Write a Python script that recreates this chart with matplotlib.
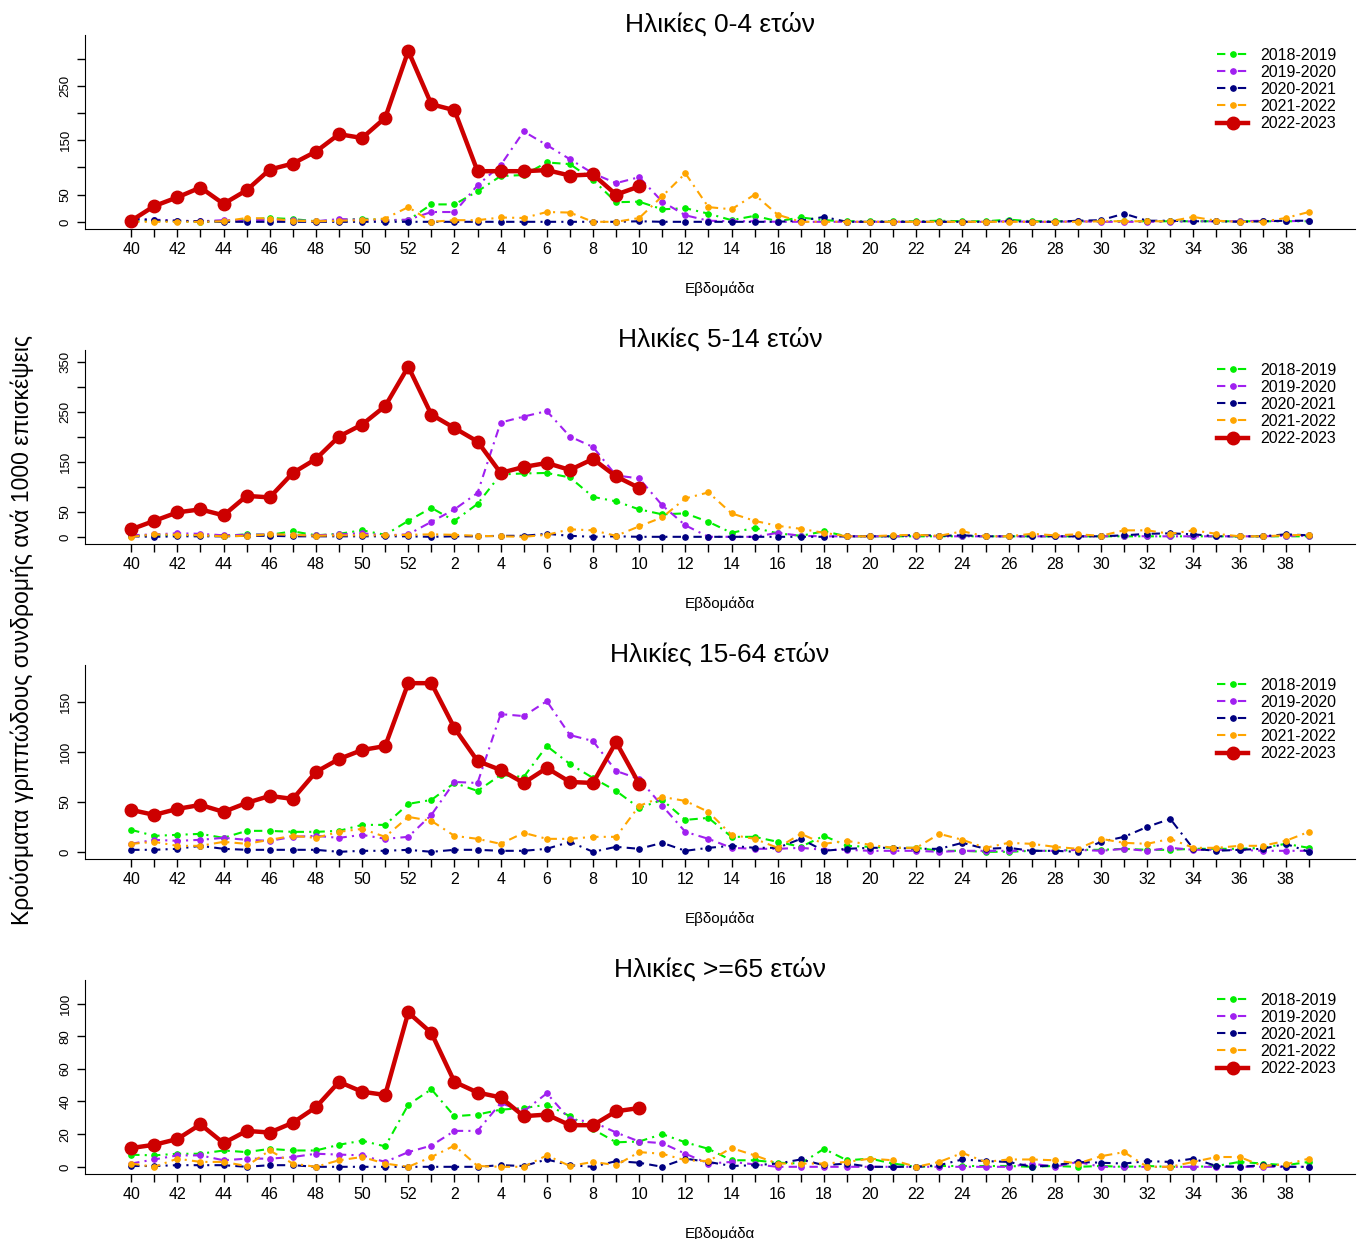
import matplotlib
matplotlib.use('Agg')
import matplotlib.pyplot as plt
import numpy as np

plt.rcParams['font.family'] = ['Liberation Sans', 'DejaVu Sans']

# Εβδομάδες της περιόδου (40..52, 1..39)
weeks = list(range(40, 53)) + list(range(1, 40))

seasons = ['2018-2019', '2019-2020', '2020-2021', '2021-2022', '2022-2023']
colors = ['#00ee00', '#a020f0', '#000080', '#ffa500', '#cd0000']

titles = ['Ηλικίες 0-4 ετών', 'Ηλικίες 5-14 ετών', 'Ηλικίες 15-64 ετών', 'Ηλικίες >=65 ετών']

# Ηλικίες 0-4  (γραμμές: εβδ. 40-52 | 1-13 | 14-26 | 27-39)
a04_1819 = [2, 2, 1, 0, 1, 4, 7, 5, 1, 3, 6, 3, 3,
            32, 32, 56, 84, 86, 109, 106, 77, 36, 37, 23, 25, 15,
            3, 11, 1, 8, 3, 1, 1, 1, 1, 2, 1, 1, 4,
            1, 1, 1, 1, 1, 1, 1, 1, 1, 1, 1, 1, 1]
a04_1920 = [5, 4, 2, 1, 3, 2, 4, 3, 1, 5, 4, 3, 4,
            18, 18, 67, 104, 166, 141, 115, 89, 71, 82, 37, 12, 2,
            1, 1, 0, 0, 0, 0, 0, 0, 0, 0, 0, 0, 1,
            0, 0, 1, 0, 0, 0, 0, 1, 1, 1, 2, 1, 2]
a04_2021 = [6, 3, 2, 1, 0, 0, 0, 0, 0, 0, 0, 0, 0,
            0, 0, 0, 0, 0, 0, 0, 0, 0, 1, 0, 0, 0,
            0, 0, 0, 2, 9, 0, 0, 0, 0, 0, 0, 0, 1,
            0, 0, 2, 3, 15, 2, 2, 1, 1, 0, 1, 2, 2]
a04_2122 = [0, 0, 0, 0, 1, 7, 6, 2, 1, 2, 3, 6, 27,
            0, 3, 3, 8, 7, 18, 17, 0, 0, 7, 47, 89, 27,
            23, 50, 13, 0, 0, 0, 0, 0, 0, 0, 0, 0, 0,
            0, 0, 0, 1, 1, 1, 1, 9, 2, 0, 0, 7, 18]
a04_2223 = [2, 29, 45, 63, 33, 58, 96, 107, 129, 161, 154, 191, 314,
            216, 205, 93, 93, 93, 95, 85, 87, 50, 65]

# Ηλικίες 5-14
a514_1819 = [2, 3, 3, 3, 2, 5, 4, 11, 3, 6, 13, 4, 32,
             58, 32, 66, 125, 127, 128, 119, 80, 71, 55, 45, 47, 30,
             8, 18, 7, 2, 11, 1, 1, 1, 1, 1, 1, 1, 1,
             1, 1, 1, 1, 1, 1, 1, 1, 1, 1, 1, 1, 1]
a514_1920 = [3, 5, 7, 6, 3, 4, 5, 3, 3, 5, 7, 3, 5,
             30, 55, 88, 229, 241, 252, 201, 180, 123, 117, 63, 23, 0,
             0, 0, 8, 2, 1, 1, 1, 1, 1, 1, 1, 1, 1,
             1, 1, 1, 1, 2, 1, 1, 1, 1, 1, 1, 2, 2]
a514_2021 = [1, 0, 1, 1, 1, 2, 2, 1, 1, 1, 1, 1, 1,
             0, 1, 1, 2, 2, 6, 2, 0, 1, 0, 0, 0, 0,
             0, 0, 0, 0, 0, 1, 1, 1, 4, 2, 3, 1, 1,
             1, 1, 1, 1, 3, 6, 7, 5, 1, 1, 1, 5, 3]
a514_2122 = [0, 5, 4, 3, 1, 2, 5, 4, 2, 3, 3, 3, 4,
             5, 4, 2, 1, 0, 4, 15, 13, 2, 21, 39, 77, 89,
             47, 32, 22, 16, 8, 1, 1, 3, 4, 2, 11, 1, 1,
             6, 3, 5, 2, 13, 13, 6, 13, 6, 1, 1, 3, 4]
a514_2223 = [15, 32, 49, 55, 43, 82, 79, 128, 156, 201, 225, 262, 341,
             245, 218, 191, 128, 140, 148, 134, 156, 121, 98]

# Ηλικίες 15-64
a1564_1819 = [22, 16, 17, 18, 14, 21, 21, 20, 20, 21, 27, 27, 48,
              52, 69, 61, 77, 75, 106, 88, 74, 61, 44, 52, 32, 34,
              15, 15, 10, 5, 16, 6, 5, 4, 4, 1, 1, 0, 0,
              1, 1, 2, 2, 3, 2, 2, 3, 3, 3, 4, 8, 4]
a1564_1920 = [8, 12, 11, 12, 14, 12, 11, 15, 16, 14, 17, 13, 15,
              37, 70, 69, 138, 136, 151, 117, 111, 81, 73, 46, 20, 13,
              4, 3, 3, 4, 2, 2, 1, 1, 1, 0, 1, 1, 1,
              1, 1, 2, 1, 3, 1, 4, 2, 2, 2, 1, 1, 1]
a1564_2021 = [2, 2, 3, 6, 3, 2, 2, 2, 2, 0, 1, 1, 2,
              0, 2, 2, 1, 1, 3, 10, 0, 5, 3, 9, 1, 4,
              6, 4, 4, 13, 1, 3, 4, 4, 3, 3, 9, 3, 4,
              1, 1, 0, 10, 15, 25, 33, 3, 1, 2, 3, 8, 0]
a1564_2122 = [8, 10, 6, 6, 10, 8, 12, 16, 14, 20, 23, 15, 35,
              31, 16, 13, 8, 19, 13, 13, 15, 15, 46, 55, 51, 40,
              17, 13, 4, 18, 8, 11, 7, 4, 4, 18, 12, 4, 9,
              8, 5, 3, 13, 9, 8, 13, 4, 4, 6, 6, 11, 20]
a1564_2223 = [42, 37, 43, 47, 40, 49, 56, 53, 80, 93, 102, 106, 169,
              169, 124, 91, 82, 69, 84, 70, 69, 110, 68]

# Ηλικίες >=65
a65_1819 = [7.4, 7, 8, 8, 10, 9, 11, 10, 10, 13.5, 16, 12.5, 38,
            47.5, 31, 32, 35, 36, 38, 31, 23, 15, 15.5, 20, 15, 11,
            4, 4, 2.5, 2, 11, 4, 5, 2, 0, 0.5, 0.5, 0.5, 0.5,
            0, 0.5, 0, 0.5, 0, 0.5, 0, 0, 0.5, 3, 2, 1, 3]
a65_1920 = [2, 4.5, 7, 7, 4, 5, 5, 6, 8, 7.5, 7, 3, 9,
            13, 22, 22, 39, 34, 45, 29, 27.5, 21, 15.5, 14.5, 8, 2,
            3, 1.5, 0, 0, 0, 0, 0, 0, 0, 0, 0, 0, 0,
            2, 0, 3, 0, 0, 0, 0, 0, 0, 0, 0, 0, 0]
a65_2021 = [0.5, 0.5, 1, 1, 1, 0, 1, 1, 0, 0, 0, 0, 0,
            0, 0, 0, 1, 0.5, 4.5, 1, 0, 3.5, 2.5, 0, 5, 3,
            0.5, 1, 2, 4.5, 1, 2, 0, 0, 0, 1, 4.5, 3.5, 3,
            0, 1, 3, 2.5, 2, 3.5, 3, 5, 0.5, 0, 1, 0, 0]
a65_2122 = [2, 0, 5, 3, 3, 0.5, 10, 2, 0, 4, 6, 2, 0,
            6, 13, 0.5, 0, 0, 7, 0.5, 3, 1, 9, 8, 4, 3.5,
            11.5, 7, 2, 2, 2, 3, 5, 4, 0, 3, 8.5, 3, 4.5,
            4.5, 4, 2, 6.5, 9, 0, 0, 3, 6, 6, 0.5, 1.5, 5]
a65_2223 = [11.5, 13.5, 17, 26, 14.5, 22, 21, 27, 36.5, 52, 46, 44, 94.5,
            82, 52, 45.5, 42.5, 31, 32, 25.5, 25.5, 34, 36]

panels = [
    [a04_1819, a04_1920, a04_2021, a04_2122, a04_2223],
    [a514_1819, a514_1920, a514_2021, a514_2122, a514_2223],
    [a1564_1819, a1564_1920, a1564_2021, a1564_2122, a1564_2223],
    [a65_1819, a65_1920, a65_2021, a65_2122, a65_2223],
]

# y-άξονες: όρια, ticks, ποια ticks έχουν ετικέτα
ylims = [(-13.2, 343.2), (-14.4, 374.4), (-7.2, 187.2), (-4.4, 114.4)]
yticks = [np.arange(0, 301, 50), np.arange(0, 351, 50), np.arange(0, 151, 50), np.arange(0, 101, 20)]
yshown = [[0, 50, 150, 250], [0, 50, 150, 250, 350], [0, 50, 100, 150], [0, 20, 40, 60, 80, 100]]

W, H = 1360, 1239
fig = plt.figure(figsize=(W / 100, H / 100), dpi=100)

x = np.arange(len(weeks))
xlabels = [str(w) if i % 2 == 0 else '' for i, w in enumerate(weeks)]

for p in range(4):
    top = 35 + 315 * p
    ax_h = 194
    ax = fig.add_axes([85 / W, 1 - (top + ax_h) / H, 1270 / W, ax_h / H])

    for s in range(5):
        vals = panels[p][s]
        xs = x[:len(vals)]
        if s == 4:
            ax.plot(xs, vals, color=colors[s], lw=3.2, marker='o', ms=9,
                    label=seasons[s], zorder=5)
        else:
            ax.plot(xs, vals, color=colors[s], lw=1.5, ls=(0, (4, 2.5, 1, 2.5)),
                    marker='o', ms=3.8, label=seasons[s], zorder=2 + s * 0.1)

    ax.set_xlim(-2, 53)
    ax.set_ylim(*ylims[p])
    ax.spines['top'].set_visible(False)
    ax.spines['right'].set_visible(False)

    ax.set_xticks(x)
    ax.set_xticklabels(xlabels, fontsize=11.5)
    ax.set_yticks(yticks[p])
    ax.set_yticklabels([str(v) if v in yshown[p] else '' for v in yticks[p]],
                       fontsize=9.5, rotation=90, va='center')
    ax.tick_params(direction='out', length=6, width=1)

    ax.set_xlabel('Εβδομάδα', fontsize=11)
    ax.xaxis.set_label_coords(0.5, -0.27)
    ax.text(0.5, 1 + 11 / ax_h, titles[p], transform=ax.transAxes,
            ha='center', va='center', fontsize=19)

    ax.legend(loc='upper right', bbox_to_anchor=(0.992, 0.975), frameon=False,
              fontsize=11.5, handlelength=1.9, handletextpad=0.8,
              labelspacing=0.13, borderpad=0)

fig.text(22 / W, 1 - 630 / H, 'Κρούσματα γριππώδους συνδρομής ανά 1000 επισκέψεις',
         rotation=90, ha='center', va='center', fontsize=16.6)

fig.savefig('out.png', dpi=100)
